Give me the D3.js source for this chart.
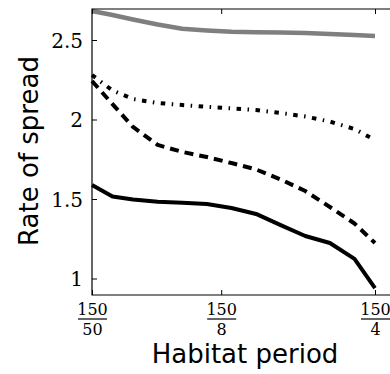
<!DOCTYPE html>
<html>
<head>
<meta charset="utf-8">
<script src="https://cdn.jsdelivr.net/npm/d3@7"></script>
<style>
  html, body { margin: 0; padding: 0; background: #fff; }
  svg { display: block; }
</style>
</head>
<body>
<div id="chart"></div>
<script>
// ---- data ----
const periods = [3, 5.5, 8, 11, 14, 17, 20, 23, 26, 29, 32, 35, 37.5];
const greySolid = [2.682, 2.657, 2.629, 2.597, 2.571, 2.560, 2.552, 2.548, 2.547, 2.544, 2.538, 2.531, 2.525];
const dashDot   = [2.280, 2.182, 2.129, 2.104, 2.091, 2.080, 2.070, 2.060, 2.041, 2.019, 1.987, 1.940, 1.871];
const dashed    = [2.242, 2.097, 1.953, 1.840, 1.796, 1.764, 1.726, 1.686, 1.623, 1.550, 1.450, 1.346, 1.223];
const blackSolid= [1.588, 1.516, 1.497, 1.483, 1.476, 1.469, 1.443, 1.406, 1.336, 1.267, 1.223, 1.123, 0.940];
const yTicks = [1, 1.5, 2, 2.5];
const yTickLabels = ["1", "1.5", "2", "2.5"];
const xTicks = [3, 18.75, 37.5];
const xTickNumerators = ["150", "150", "150"];
const xTickDenominators = ["50", "8", "4"];
const xLabel = "Habitat period";
const yLabel = "Rate of spread";

(function () {
// ---- layout ----
const W = 390, H = 374;
const mLeft = 92, mTop = 9, mBottom = 295;

const x = d3.scaleLinear().domain([3, 37.5]).range([mLeft, 375]);
const y0 = d3.scaleLinear().domain([1, 2.5]).range([278.5, 40]);
const y = d3.scaleLinear().domain([y0.invert(mBottom), y0.invert(mTop)]).range([mBottom, mTop]);

const svg = d3.select("#chart").append("svg").attr("width", W).attr("height", H);

const series = [
  { values: greySolid, color: "#7f7f7f", width: 4.5, dash: null },
  { values: dashDot, color: "#000", width: 4, dash: "4.5,6.5,1.5,6.5" },
  { values: dashed, color: "#000", width: 4, dash: "9,6" },
  { values: blackSolid, color: "#000", width: 4, dash: null }
];

const line = d3.line().x((d, i) => x(periods[i])).y(d => y(d));

svg.append("g").selectAll("path").data(series).join("path")
  .attr("d", s => line(s.values))
  .attr("fill", "none")
  .attr("stroke", s => s.color)
  .attr("stroke-width", s => s.width)
  .attr("stroke-dasharray", s => s.dash)
  .attr("stroke-linejoin", "round")
  .attr("stroke-linecap", "butt");

// frame
const rightEdge = W + 20;
svg.append("path")
  .attr("d", `M${rightEdge},${mTop}H${mLeft}V${mBottom}H${rightEdge}`)
  .attr("fill", "none").attr("stroke", "#000").attr("stroke-width", 1.2);

const serif = "'DejaVu Serif', serif";

// left axis
const yAxis = svg.append("g").attr("transform", `translate(${mLeft},0)`)
  .call(d3.axisLeft(y).tickValues(yTicks).tickSize(-5).tickPadding(9)
    .tickFormat((d, i) => yTickLabels[i]));
yAxis.select(".domain").remove();
yAxis.selectAll("line").attr("stroke", "#000").attr("stroke-width", 1);
yAxis.selectAll("text").attr("font-family", serif).attr("font-size", 20).attr("fill", "#000").attr("dy", "0.36em");

// top axis ticks
const topAxis = svg.append("g").attr("transform", `translate(0,${mTop})`)
  .call(d3.axisTop(x).tickValues(xTicks).tickSize(-5).tickFormat(""));
topAxis.select(".domain").remove();
topAxis.selectAll("line").attr("stroke", "#000");

// bottom axis
const xAxis = svg.append("g").attr("transform", `translate(0,${mBottom})`)
  .call(d3.axisBottom(x).tickValues(xTicks).tickSize(-5).tickFormat(""));
xAxis.select(".domain").remove();
xAxis.selectAll("line").attr("stroke", "#000");
xAxis.selectAll(".tick").each(function(d, i) {
  const g = d3.select(this);
  g.append("text").attr("y", 19.5).attr("text-anchor", "middle")
    .attr("font-family", serif).attr("font-size", 16).attr("fill", "#000")
    .text(xTickNumerators[i]);
  g.append("line").attr("x1", -14.5).attr("x2", 14.5).attr("y1", 24).attr("y2", 24)
    .attr("stroke", "#000").attr("stroke-width", 1.2);
  g.append("text").attr("y", 40).attr("text-anchor", "middle")
    .attr("font-family", serif).attr("font-size", 16).attr("fill", "#000")
    .text(xTickDenominators[i]);
});

// axis labels
svg.append("text").attr("x", 245).attr("y", 363).attr("text-anchor", "middle")
  .attr("font-family", "'DejaVu Sans', sans-serif").attr("font-size", 26).attr("fill", "#000")
  .text(xLabel);
svg.append("text").attr("transform", `translate(38,151) rotate(-90)`).attr("text-anchor", "middle")
  .attr("font-family", "'DejaVu Sans', sans-serif").attr("font-size", 26).attr("fill", "#000")
  .text(yLabel);
})();
</script>
</body>
</html>
